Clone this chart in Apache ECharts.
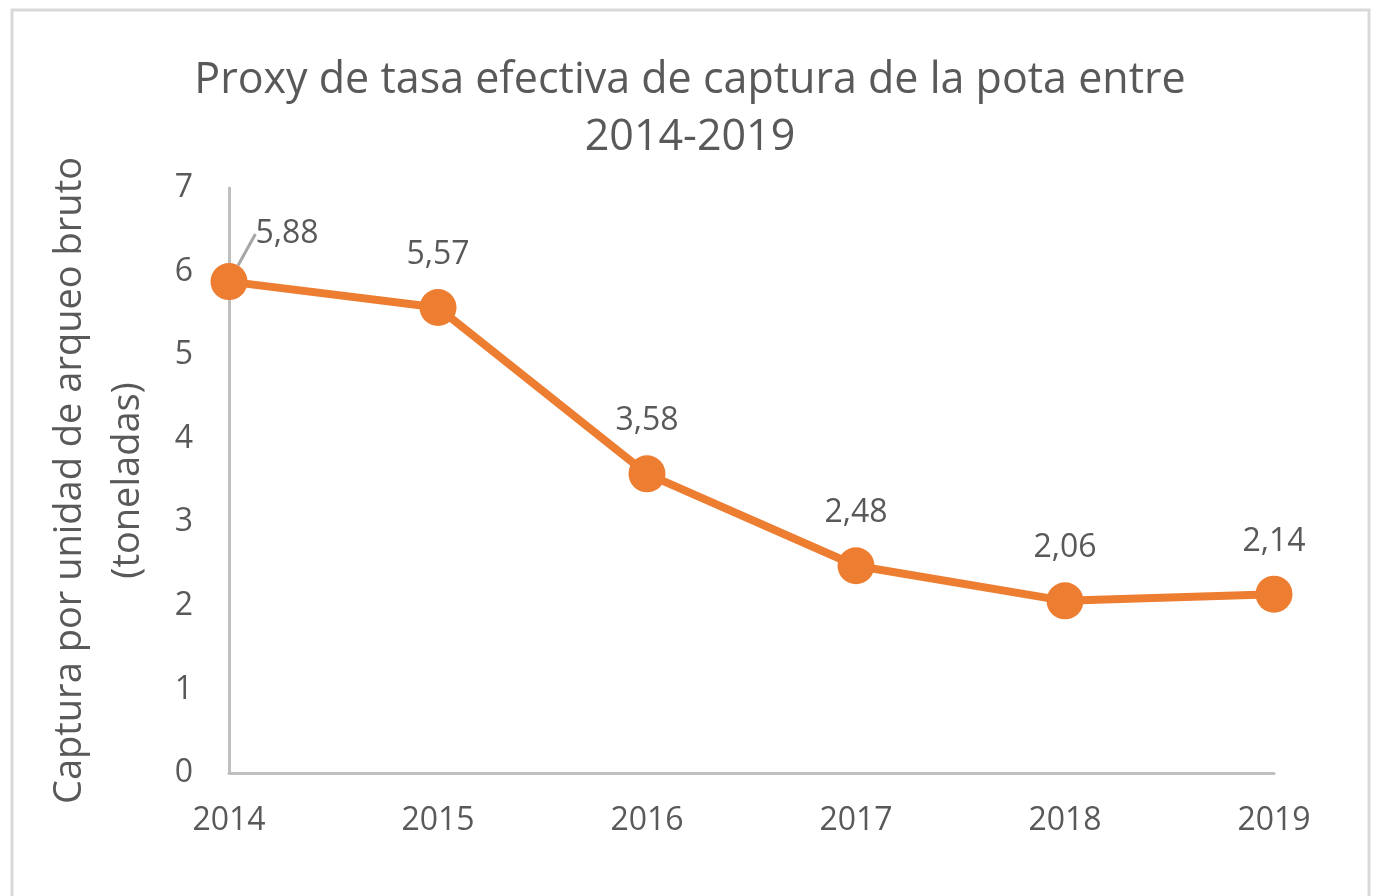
<!DOCTYPE html>
<html style="height: 100%">
<head>
    <meta charset="utf-8">
    <title>Proxy de tasa efectiva de captura</title>
    <script src="https://cdn.jsdelivr.net/npm/echarts@6/dist/echarts.min.js"></script>
</head>
<body style="height: 100%; margin: 0; background: #fff">
<div id="container" style="width: 1380px; height: 896px"></div>
<script type="text/javascript">
    // datos
    var years = ['2014', '2015', '2016', '2017', '2018', '2019'];
    var capturaPorArqueo = [5.88, 5.57, 3.58, 2.48, 2.06, 2.14];
    var yTicks = [0, 1, 2, 3, 4, 5, 6, 7];

    var gris = '#595959';
    var naranja = '#ED7D31';
    var fuente = 'Open Sans';

    var dom = document.getElementById('container');
    var myChart = echarts.init(dom);

    // solo el primer punto lleva linea guia hacia su etiqueta
    var serieDatos = capturaPorArqueo.map(function (v, i) {
        if (i === 0) {
            return { value: v, labelLine: { show: true } };
        }
        return v;
    });

    var option = {
        backgroundColor: '#fff',
        animation: false,
        textStyle: { fontFamily: fuente },
        graphic: [{
            type: 'rect',
            shape: { x: 12, y: 10, width: 1357, height: 900 },
            style: { fill: 'none', stroke: '#D9D9D9', lineWidth: 3 }
        }],
        title: {
            text: 'Proxy de tasa efectiva de captura de la pota entre\n2014-2019',
            left: 'center',
            top: 47,
            textStyle: {
                fontFamily: fuente,
                fontSize: 43,
                lineHeight: 57,
                fontWeight: 'normal',
                color: gris
            }
        },
        grid: { left: 229, right: 106, top: 188, bottom: 123 },
        xAxis: {
            type: 'category',
            data: years,
            boundaryGap: false,
            axisLine: { lineStyle: { color: '#BFBFBF', width: 3 } },
            axisTick: { show: false },
            axisLabel: { color: gris, fontSize: 32, margin: 32 },
            splitLine: { show: false }
        },
        yAxis: {
            type: 'value',
            min: yTicks[0],
            max: yTicks[yTicks.length - 1],
            interval: 1,
            name: 'Captura por unidad de arqueo bruto\n(toneladas)',
            nameLocation: 'middle',
            nameRotate: 90,
            nameGap: 72,
            nameTextStyle: { color: gris, fontSize: 38, lineHeight: 58 },
            axisLine: { show: true, lineStyle: { color: '#BFBFBF', width: 3 } },
            axisTick: { show: false },
            axisLabel: { color: gris, fontSize: 32, margin: 36 },
            splitLine: { show: false }
        },
        series: [{
            type: 'line',
            data: serieDatos,
            symbol: 'circle',
            symbolSize: 37,
            lineStyle: { color: naranja, width: 8 },
            itemStyle: { color: naranja },
            label: {
                show: true,
                position: 'top',
                distance: 18,
                color: gris,
                fontSize: 32,
                formatter: function (p) {
                    return p.value.toFixed(2).replace('.', ',');
                }
            },
            labelLine: {
                show: false,
                lineStyle: { color: '#A6A6A6', width: 3 }
            },
            labelLayout: function (params) {
                if (params.dataIndex === 0) {
                    return { dx: 58, dy: 5 };
                }
            }
        }]
    };

    myChart.setOption(option);
</script>
</body>
</html>
